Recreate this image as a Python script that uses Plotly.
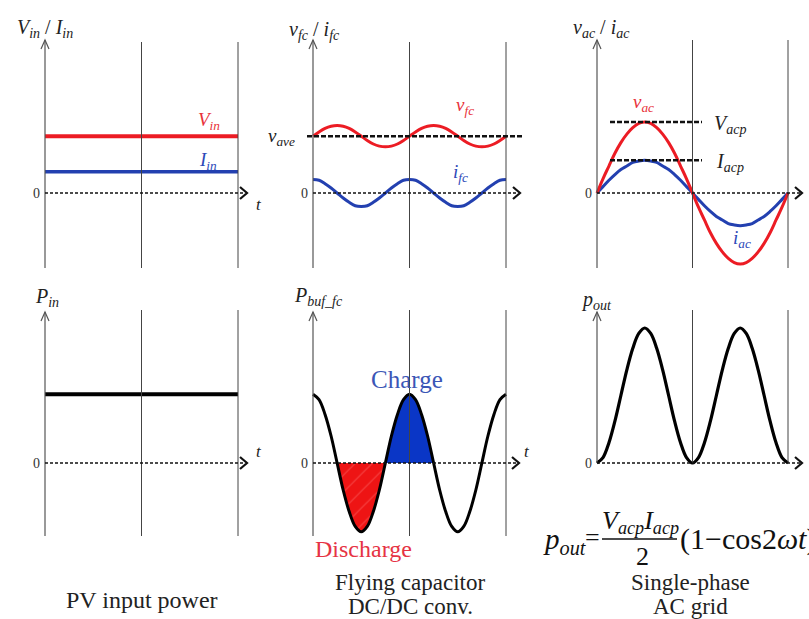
import plotly.graph_objects as go

W, H = 809, 619

# ---------------- data ----------------
# time axis in steps of 1/32 of the grid period (vertical guides at 16 and 32)
t_steps = [0, 1, 2, 3, 4, 5, 6, 7, 8, 9, 10, 11, 12, 13, 14, 15, 16,
           17, 18, 19, 20, 21, 22, 23, 24, 25, 26, 27, 28, 29, 30, 31, 32]

# top row (voltage / current, arbitrary units)
v_in_level = 0.80
i_in_level = 0.30
v_ave_level = 0.80
v_fc = [0.80, 0.86, 0.91, 0.94, 0.95, 0.94, 0.91, 0.86, 0.80, 0.74, 0.69, 0.66, 0.65, 0.66, 0.69, 0.74,
        0.80, 0.86, 0.91, 0.94, 0.95, 0.94, 0.91, 0.86, 0.80, 0.74, 0.69, 0.66, 0.65, 0.66, 0.69, 0.74, 0.80]
i_fc = [0.19, 0.18, 0.13, 0.07, 0.00, -0.07, -0.13, -0.18, -0.19, -0.18, -0.13, -0.07, 0.00, 0.07, 0.13, 0.18,
        0.19, 0.18, 0.13, 0.07, 0.00, -0.07, -0.13, -0.18, -0.19, -0.18, -0.13, -0.07, 0.00, 0.07, 0.13, 0.18, 0.19]
v_ac = [0.00, 0.20, 0.38, 0.56, 0.71, 0.83, 0.92, 0.98, 1.00, 0.98, 0.92, 0.83, 0.71, 0.56, 0.38, 0.20,
        0.00, -0.20, -0.38, -0.56, -0.71, -0.83, -0.92, -0.98, -1.00, -0.98, -0.92, -0.83, -0.71, -0.56, -0.38, -0.20, 0.00]
i_ac = [0.00, 0.09, 0.18, 0.26, 0.33, 0.38, 0.43, 0.45, 0.46, 0.45, 0.43, 0.38, 0.33, 0.26, 0.18, 0.09,
        0.00, -0.09, -0.18, -0.26, -0.33, -0.38, -0.43, -0.45, -0.46, -0.45, -0.43, -0.38, -0.33, -0.26, -0.18, -0.09, 0.00]
v_acp_level = 1.00
i_acp_level = 0.46

# bottom row (power, arbitrary units)
p_in_level = 0.51
p_buf = [0.51, 0.47, 0.36, 0.20, 0.00, -0.20, -0.36, -0.47, -0.51, -0.47, -0.36, -0.20, 0.00, 0.20, 0.36, 0.47,
         0.51, 0.47, 0.36, 0.20, 0.00, -0.20, -0.36, -0.47, -0.51, -0.47, -0.36, -0.20, 0.00, 0.20, 0.36, 0.47, 0.51]
p_out = [0.00, 0.04, 0.15, 0.31, 0.50, 0.69, 0.85, 0.96, 1.00, 0.96, 0.85, 0.69, 0.50, 0.31, 0.15, 0.04,
         0.00, 0.04, 0.15, 0.31, 0.50, 0.69, 0.85, 0.96, 1.00, 0.96, 0.85, 0.69, 0.50, 0.31, 0.15, 0.04, 0.00]
discharge_idx = (4, 13)   # negative lobe of p_buf (discharge)
charge_idx = (12, 21)     # positive lobe of p_buf (charge)

captions = [["PV input power"], ["Flying capacitor", "DC/DC conv."], ["Single-phase", "AC grid"]]

# ---------------- layout geometry (pixels) ----------------
RED = "#ec1c24"
BLUE = "#2340b0"
FONT = "Liberation Serif"
STEPS = 32

# (xL, xR, t0px, t1px, yT, yB, zero_px, px_per_unit)
panels = [
    (0, 265, 45, 238, 8, 280, 193, 71),
    (265, 541, 313, 506, 8, 280, 193, 71),
    (541, 809, 597, 788, 8, 280, 193, 71),
    (0, 265, 45, 238, 282, 562, 463, 135),
    (265, 541, 313, 506, 282, 562, 463, 135),
    (541, 809, 597, 788, 282, 562, 463, 135),
]


def tx(i, px):
    xL, xR, t0, t1, yT, yB, y0, s = panels[i]
    return (px - t0) / ((t1 - t0) / STEPS)


def vy(i, py):
    xL, xR, t0, t1, yT, yB, y0, s = panels[i]
    return (y0 - py) / s


def PX(px):
    return px / W


def PY(py):
    return 1 - py / H


fig = go.Figure()
layout = dict(width=W, height=H, margin=dict(l=0, r=0, t=0, b=0),
              paper_bgcolor="white", plot_bgcolor="rgba(0,0,0,0)", showlegend=False)
for i, (xL, xR, t0, t1, yT, yB, y0, s) in enumerate(panels):
    n = "" if i == 0 else str(i + 1)
    layout["xaxis" + n] = dict(domain=[PX(xL), PX(xR)], range=[tx(i, xL), tx(i, xR)],
                               visible=False, fixedrange=True)
    layout["yaxis" + n] = dict(domain=[PY(yB), PY(yT)], range=[vy(i, yB), vy(i, yT)],
                               visible=False, fixedrange=True)
fig.update_layout(**layout)


def ax(i):
    n = "" if i == 0 else str(i + 1)
    return "x" + n, "y" + n


shapes = []
annotations = []

# axes decorations: (axis top px, axis bottom px, guide top px, x-arrow tip px)
deco = [
    (40, 268, 42, 247),
    (40, 268, 42, 520),
    (40, 268, 40, 802),
    (312, 536, 310, 247),
    (312, 536, 310, 519),
    (312, 463, 310, 802),
]
for i, (atop, abot, gtop, tip) in enumerate(deco):
    xr, yr = ax(i)
    # y axis
    shapes.append(dict(type="line", xref=xr, yref=yr, x0=0, x1=0, y0=vy(i, abot), y1=vy(i, atop),
                       line=dict(color="#555", width=1.2)))
    shapes.append(dict(type="path", xref=xr, yref=yr, xsizemode="pixel", ysizemode="pixel",
                       xanchor=0, yanchor=vy(i, atop), path="M -4,-9 L 0,0 L 4,-9",
                       line=dict(color="#555", width=1.2)))
    # vertical guides
    for g in (16, 32):
        shapes.append(dict(type="line", xref=xr, yref=yr, x0=g, x1=g, y0=vy(i, abot), y1=vy(i, gtop),
                           line=dict(color="#444", width=1)))
    # zero line with arrow
    shapes.append(dict(type="line", xref=xr, yref=yr, x0=0, x1=tx(i, tip - 2), y0=0, y1=0,
                       line=dict(color="#111", width=1.5, dash="3px,2px")))
    shapes.append(dict(type="path", xref=xr, yref=yr, xsizemode="pixel", ysizemode="pixel",
                       xanchor=tx(i, tip), yanchor=0, path="M -7,6 L 0,0 L -7,-6",
                       line=dict(color="#111", width=2.2)))
    # "0" label
    annotations.append(dict(x=PX(panels[i][2] - 9), y=PY(panels[i][6]), xref="paper", yref="paper",
                            text="0", showarrow=False, xanchor="center", yanchor="middle",
                            font=dict(family=FONT, size=14, color="#333")))

# "t" labels
for px, py in [(254, 193), (254, 463), (527, 463)]:
    annotations.append(dict(x=PX(px), y=PY(py), xref="paper", yref="paper", text="<i>t</i>",
                            showarrow=False, font=dict(family=FONT, size=17, color="#222")))

# ---------------- traces ----------------
tt = [t_steps[0], t_steps[-1]]
# panel 1
fig.add_trace(go.Scatter(x=tt, y=[v_in_level] * 2, mode="lines", line=dict(color=RED, width=4),
                         xaxis="x", yaxis="y", hoverinfo="skip"))
fig.add_trace(go.Scatter(x=tt, y=[i_in_level] * 2, mode="lines", line=dict(color=BLUE, width=3.5),
                         xaxis="x", yaxis="y", hoverinfo="skip"))
# panel 2
shapes.append(dict(type="line", xref="x2", yref="y2", x0=tx(1, 307), x1=tx(1, 523),
                   y0=v_ave_level, y1=v_ave_level, line=dict(color="#111", width=2.5, dash="5px,2px")))
fig.add_trace(go.Scatter(x=t_steps, y=v_fc, mode="lines", line=dict(color=RED, width=3, shape="spline"),
                         xaxis="x2", yaxis="y2", hoverinfo="skip"))
fig.add_trace(go.Scatter(x=t_steps, y=i_fc, mode="lines", line=dict(color=BLUE, width=3, shape="spline"),
                         xaxis="x2", yaxis="y2", hoverinfo="skip"))
# panel 3
shapes.append(dict(type="line", xref="x3", yref="y3", x0=tx(2, 610), x1=tx(2, 702),
                   y0=v_acp_level, y1=v_acp_level, line=dict(color="#111", width=2.5, dash="5px,2px")))
shapes.append(dict(type="line", xref="x3", yref="y3", x0=tx(2, 610), x1=tx(2, 702),
                   y0=i_acp_level, y1=i_acp_level, line=dict(color="#111", width=2.5, dash="5px,2px")))
fig.add_trace(go.Scatter(x=t_steps, y=i_ac, mode="lines", line=dict(color=BLUE, width=3, shape="spline"),
                         xaxis="x3", yaxis="y3", hoverinfo="skip"))
fig.add_trace(go.Scatter(x=t_steps, y=v_ac, mode="lines", line=dict(color=RED, width=3, shape="spline"),
                         xaxis="x3", yaxis="y3", hoverinfo="skip"))
# panel 4
fig.add_trace(go.Scatter(x=tt, y=[p_in_level] * 2, mode="lines", line=dict(color="#000", width=4),
                         xaxis="x4", yaxis="y4", hoverinfo="skip"))
# panel 5
a, b = discharge_idx
fig.add_trace(go.Scatter(x=t_steps[a:b], y=p_buf[a:b], mode="lines", line=dict(width=0, shape="spline"),
                         fill="tozeroy", fillcolor="#ee1414",
                         fillpattern=dict(shape="/", fgcolor="rgba(255,150,150,0.7)", bgcolor="#ee1414",
                                          size=12, solidity=0.1),
                         xaxis="x5", yaxis="y5", hoverinfo="skip"))
a, b = charge_idx
fig.add_trace(go.Scatter(x=t_steps[a:b], y=p_buf[a:b], mode="lines", line=dict(width=0, shape="spline"),
                         fill="tozeroy", fillcolor="#0a36c6",
                         xaxis="x5", yaxis="y5", hoverinfo="skip"))
fig.add_trace(go.Scatter(x=t_steps, y=p_buf, mode="lines", line=dict(color="#000", width=3, shape="spline"),
                         xaxis="x5", yaxis="y5", hoverinfo="skip"))
# panel 6
fig.add_trace(go.Scatter(x=t_steps, y=p_out, mode="lines", line=dict(color="#000", width=3.2, shape="spline"),
                         xaxis="x6", yaxis="y6", hoverinfo="skip"))

# ---------------- text ----------------
def txt(px, py, text, size, color="#222", xanchor="center"):
    annotations.append(dict(x=PX(px), y=PY(py), xref="paper", yref="paper", text=text, showarrow=False,
                            xanchor=xanchor, yanchor="middle", font=dict(family=FONT, size=size, color=color)))


txt(45, 29, "<i>V<sub>in</sub></i> / <i>I<sub>in</sub></i>", 20)
txt(314, 30, "<i>v<sub>fc</sub></i> / <i>i<sub>fc</sub></i>", 20)
txt(601, 29, "<i>v<sub>ac</sub></i> / <i>i<sub>ac</sub></i>", 20)
txt(47, 297, "<i>P<sub>in</sub></i>", 20)
txt(318, 296, "<i>P<sub>buf_fc</sub></i>", 20)
txt(596, 300, "<i>p<sub>out</sub></i>", 20)

txt(209, 121, "<i>V<sub>in</sub></i>", 19, "#e8323a")
txt(208, 161, "<i>I<sub>in</sub></i>", 19, "#2b48b8")
txt(465, 106, "<i>v<sub>fc</sub></i>", 19, "#e8323a")
txt(460, 173, "<i>i<sub>fc</sub></i>", 19, "#2b48b8")
txt(281, 137, "<i>v<sub>ave</sub></i>", 19)
txt(643, 103, "<i>v<sub>ac</sub></i>", 19, "#e8323a")
txt(742, 239, "<i>i<sub>ac</sub></i>", 19, "#2b48b8")
txt(712, 125, "<i>V<sub>acp</sub></i>", 20, xanchor="left")
txt(714, 162, "<i>I<sub>acp</sub></i>", 20, xanchor="left")

txt(407, 380, "Charge", 25, "#3b56b6")
txt(363, 549, "Discharge", 24, "#e63344")

# formula
txt(541, 541, "<i>p<sub>out</sub></i>", 29, "#111", xanchor="left")
txt(592, 537, "=", 26, "#111")
txt(640, 522, "<i>V<sub>acp</sub>I<sub>acp</sub></i>", 26, "#111")
txt(642, 556, "2", 26, "#111")
txt(678, 539, "(1\u2212cos2<i>\u03c9t</i>)", 30, "#111", xanchor="left")
shapes.append(dict(type="line", xref="paper", yref="paper", x0=PX(602), x1=PX(677), y0=PY(539), y1=PY(539),
                   line=dict(color="#111", width=1.5)))

# captions
txt(142, 600, captions[0][0], 24)
txt(410, 582, captions[1][0], 23)
txt(410, 606, captions[1][1], 23)
txt(690, 582, captions[2][0], 23)
txt(690, 606, captions[2][1], 23)

fig.update_layout(shapes=shapes, annotations=annotations)
fig.write_html("out.html", config={"displayModeBar": False},
               post_script="document.body.style.margin='0px';document.body.style.overflow='hidden';")
